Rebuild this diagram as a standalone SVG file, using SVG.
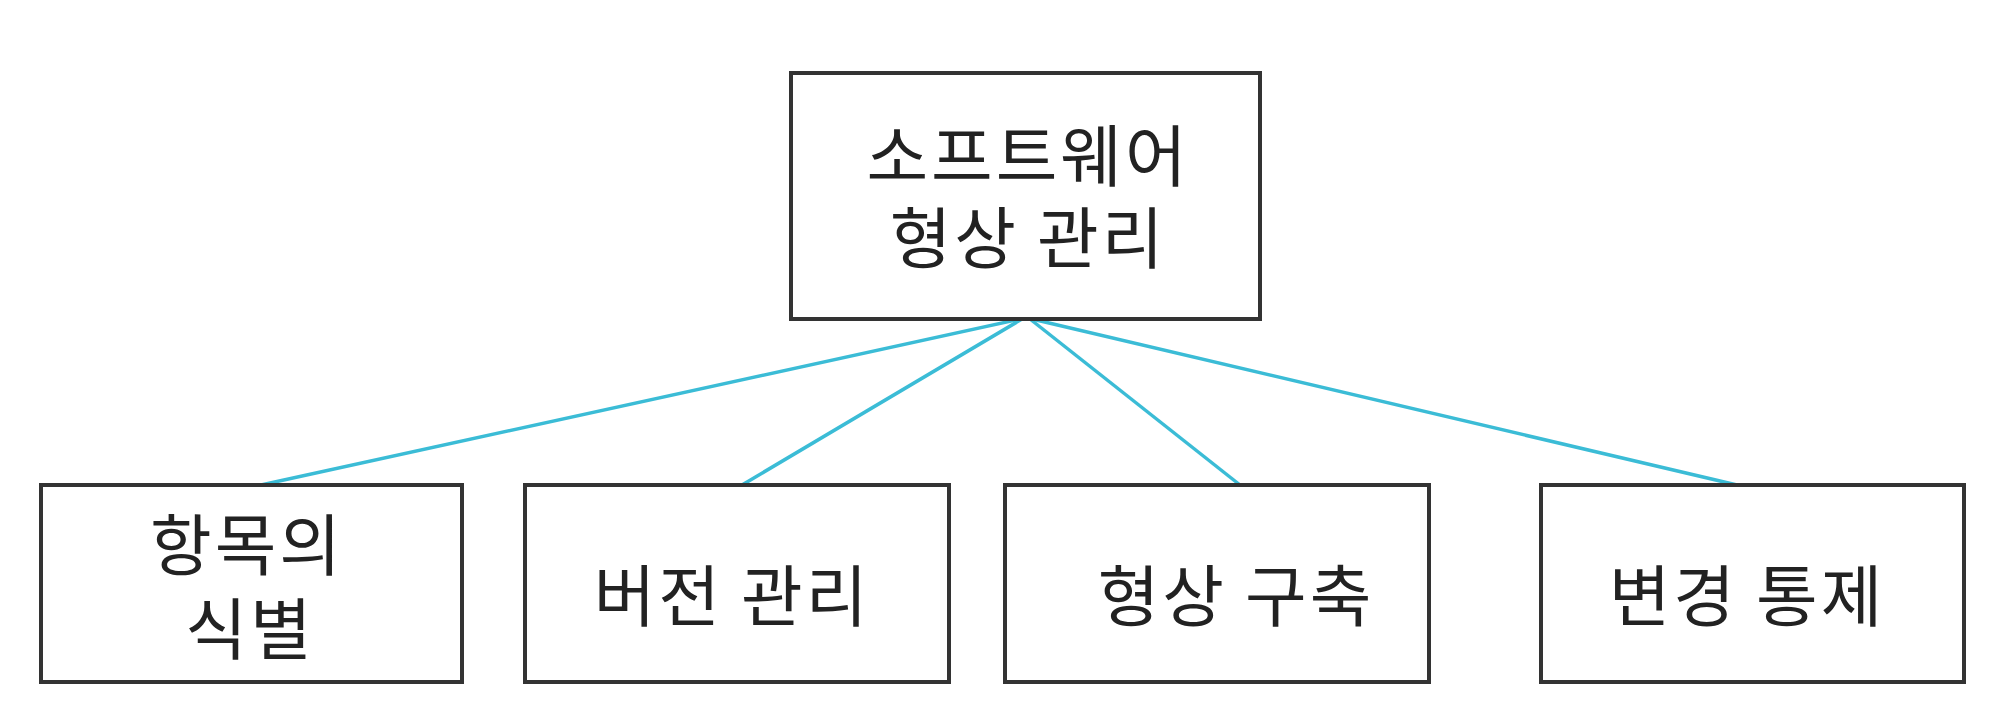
<svg xmlns="http://www.w3.org/2000/svg" width="2000" height="718" viewBox="0 0 2000 718">
<style>
.box{fill:#fff;stroke:#333;stroke-width:4}
.lbl{font-family:"Noto Sans CJK KR","Noto Sans",sans-serif;font-size:67px;letter-spacing:3px;fill:#222;text-anchor:middle;dominant-baseline:central}
.conn{stroke:#3bbcd6;stroke-width:3.5;fill:none}
</style>
<rect width="2000" height="718" fill="#fff"/>
<g id="connectors">
<line class="conn" x1="1020" y1="319" x2="261" y2="485"/>
<line class="conn" x1="1022" y1="319" x2="742" y2="485"/>
<line class="conn" x1="1030" y1="319" x2="1240" y2="485"/>
<line class="conn" x1="1032" y1="319" x2="1737" y2="485"/>
</g>
<g id="root">
<rect class="box" x="791" y="73" width="469" height="246"/>
<text class="lbl" x="1028" y="151">소프트웨어</text>
<text class="lbl" x="1028" y="233">형상 관리</text>
</g>
<g id="item-id">
<rect class="box" x="41" y="485" width="421" height="197"/>
<text class="lbl" x="247" y="540">항목의</text>
<text class="lbl" x="250" y="624">식별</text>
</g>
<g id="version">
<rect class="box" x="525" y="485" width="424" height="197"/>
<text class="lbl" x="732" y="591">버전 관리</text>
</g>
<g id="build">
<rect class="box" x="1005" y="485" width="424" height="197"/>
<text class="lbl" x="1236" y="591">형상 구축</text>
</g>
<g id="change">
<rect class="box" x="1541" y="485" width="423" height="197"/>
<text class="lbl" x="1747" y="591">변경 통제</text>
</g>
</svg>
